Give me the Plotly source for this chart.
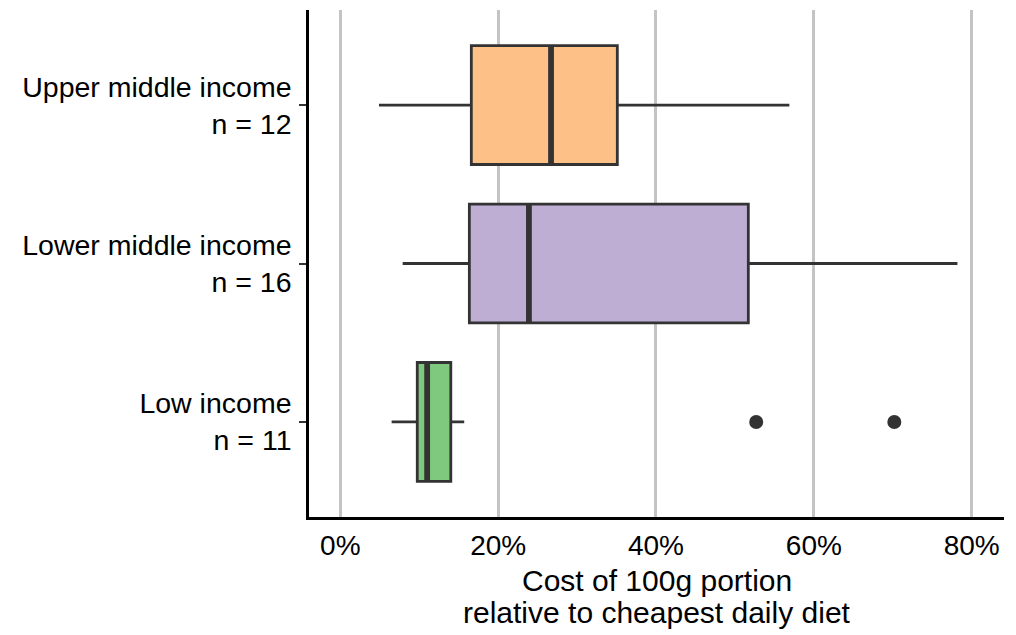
import plotly.graph_objects as go

# ---- data (values as fractions of cheapest daily diet cost) ----
groups = ["Low income", "Lower middle income", "Upper middle income"]
group_n = [11, 16, 12]
lower_whisker = [0.065, 0.079, 0.049]
q1_vals = [0.0975, 0.1635, 0.166]
median_vals = [0.110, 0.239, 0.267]
q3_vals = [0.140, 0.517, 0.351]
upper_whisker = [0.157, 0.782, 0.569]
outlier_group = ["Low income", "Low income"]
outlier_vals = [0.527, 0.702]
fill_colors = ["#7FC97F", "#BEAED4", "#FDC086"]
x_tick_vals = [0, 0.2, 0.4, 0.6, 0.8]
x_title_lines = ["Cost of 100g portion", "relative to cheapest daily diet"]

LINE = "#333333"
FONT = "Liberation Sans, Arial, sans-serif"
BOX_W = 0.75

positions = list(range(1, len(groups) + 1))
pos_of = dict(zip(groups, positions))

fig = go.Figure()
for i, g in enumerate(groups):
    fig.add_trace(go.Box(
        y=[positions[i]], q1=[q1_vals[i]], median=[median_vals[i]], q3=[q3_vals[i]],
        lowerfence=[lower_whisker[i]], upperfence=[upper_whisker[i]],
        orientation="h", width=BOX_W, whiskerwidth=0,
        fillcolor=fill_colors[i], line=dict(color=LINE, width=2.8),
        boxpoints=False, showlegend=False, hoverinfo="skip", name=g,
    ))

# thicker median lines (ggplot style)
for i, g in enumerate(groups):
    fig.add_trace(go.Scatter(
        x=[median_vals[i], median_vals[i]],
        y=[positions[i] - BOX_W / 2, positions[i] + BOX_W / 2],
        mode="lines", line=dict(color=LINE, width=5.8),
        showlegend=False, hoverinfo="skip",
    ))

# outliers
fig.add_trace(go.Scatter(
    x=outlier_vals, y=[pos_of[g] for g in outlier_group], mode="markers",
    marker=dict(color=LINE, size=14), showlegend=False, hoverinfo="skip",
))

tick_text = [f"{g}<br>n = {n}" for g, n in zip(groups, group_n)]

# x-axis title as two lines with tighter line spacing
annotations = []
for k, line in enumerate(x_title_lines):
    annotations.append(dict(
        text=line, xref="paper", yref="paper", x=0.5, y=0,
        xanchor="center", yanchor="top", yshift=-45 - 32 * k,
        showarrow=False, font=dict(family=FONT, size=30, color="black"),
    ))

# the page body has an 8px default margin; size the figure to compensate
fig.update_layout(
    width=1008, height=627,
    margin=dict(l=301, r=12, t=2, b=118),
    paper_bgcolor="white", plot_bgcolor="white",
    font=dict(family=FONT, size=28, color="black"),
    annotations=annotations,
    xaxis=dict(
        range=[-0.0397, 0.841], tickvals=x_tick_vals, tickformat=".0%",
        showgrid=True, gridcolor="#C4C4C4", gridwidth=2.5, zeroline=False,
        showline=True, linecolor="black", linewidth=2.6,
        ticks="", ticklabelstandoff=2, automargin=False,
        tickfont=dict(size=28, color="black"),
    ),
    yaxis=dict(
        range=[0.4, 3.6], tickvals=positions, ticktext=tick_text,
        showgrid=False, zeroline=False, automargin=False,
        showline=True, linecolor="black", linewidth=2.6,
        ticks="outside", ticklen=7, tickwidth=2, tickcolor=LINE,
        ticklabelstandoff=2,
        tickfont=dict(size=28.5, color="black"),
    ),
)

fig.write_html("out.html")
